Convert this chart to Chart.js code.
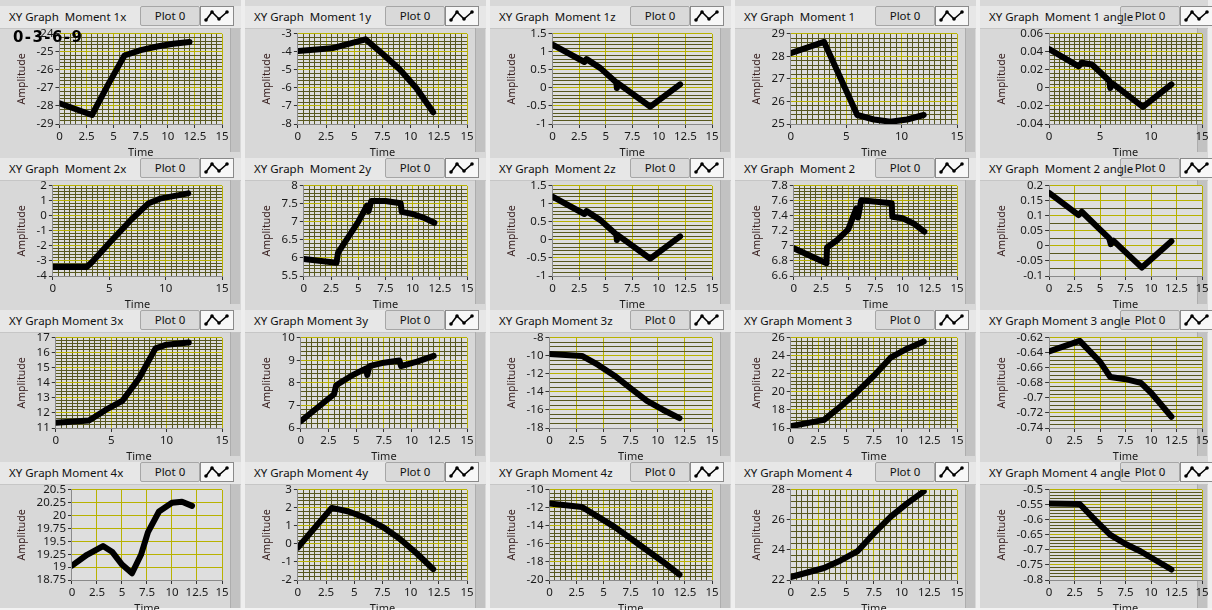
<!DOCTYPE html>
<html>
<head>
<meta charset="utf-8">
<script src="https://cdn.jsdelivr.net/npm/chart.js@4.4.0/dist/chart.umd.min.js"></script>
<style>
body{margin:0;background:#f3f3f3;width:1212px;height:610px;overflow:hidden;font-family:'Noto Sans',sans-serif;}
#board{position:relative;width:1212px;height:610px;}
.cell{position:absolute;background:#d8d8d8;box-sizing:border-box;border-right:4px solid #eeeeee;}
.edge{position:absolute;top:28px;right:1px;width:9px;bottom:0;background:#c2c2c2;border-left:1px solid #adadad;}
.head{position:absolute;left:0;right:0;top:6px;height:22px;background:#e7e7e7;border-bottom:1px solid #c6c6c6;}
.title{position:absolute;left:9px;top:9px;font-size:11.5px;white-space:pre;color:#111;}
.plotname{position:absolute;left:140px;top:6px;width:58px;height:18px;background:#d9d9d9;border:1px solid #a6a6a6;border-radius:2px;font-size:11.5px;text-align:center;line-height:18px;color:#111;}
.icon{position:absolute;left:200px;top:6px;width:32px;height:18px;background:#f7f7f7;border:1px solid #8a8a8a;}
.wrap{position:absolute;left:0;top:25px;width:232px;height:134px;z-index:3;}
#tag{position:absolute;left:13px;top:28px;font-weight:bold;font-size:15px;letter-spacing:1.4px;font-family:'DejaVu Sans',sans-serif;z-index:10;color:#000;}
</style>
</head>
<body>
<div id="board"><div id="tag">0-3-6-9</div></div>
<script>
// series: time (x) and moment value (y) per graph
const time1x = [0, 3, 4.5, 6, 7.5, 9, 10.5, 12];
const moment1x = [-27.85, -28.5, -26.8, -25.2, -24.9, -24.7, -24.55, -24.45];
const time1y = [0, 3, 6, 7.5, 9, 10.5, 12];
const moment1y = [-3.95, -3.8, -3.3, -4.1, -4.95, -6.0, -7.35];
const time1z = [0, 3, 3.2, 4.5, 6, 6.05, 6.2, 9.2, 12];
const moment1z = [1.2, 0.72, 0.8, 0.55, 0.15, 0.0, 0.12, -0.52, 0.1];
const time1 = [0, 3, 6, 7.5, 9, 10.5, 12];
const moment1 = [28.15, 28.65, 25.4, 25.2, 25.1, 25.2, 25.4];
const time1a = [0, 2.9, 3.2, 4.2, 5.9, 6.0, 6.2, 9.2, 12];
const moment1a = [0.043, 0.024, 0.028, 0.026, 0.008, 0.0, 0.005, -0.021, 0.004];

const time2x = [0, 3, 3.5, 5, 7, 8.5, 9.5, 12];
const moment2x = [-3.4, -3.4, -3.05, -1.8, -0.2, 0.85, 1.15, 1.5];
const time2y = [0, 3, 3.15, 5, 5.8, 5.95, 6.2, 7.5, 8.9, 9.0, 10, 11, 12];
const moment2y = [5.97, 5.87, 6.15, 7.0, 7.45, 7.3, 7.58, 7.58, 7.52, 7.28, 7.22, 7.12, 6.98];
const time2z = [0, 3, 3.2, 4.5, 6, 6.05, 6.2, 9.2, 12];
const moment2z = [1.2, 0.72, 0.8, 0.55, 0.15, 0.0, 0.12, -0.52, 0.1];
const time2 = [0, 3, 3.05, 4, 5, 5.75, 5.9, 6.2, 9, 9.05, 10, 11, 12];
const moment2 = [6.97, 6.77, 6.98, 7.08, 7.22, 7.5, 7.38, 7.61, 7.57, 7.39, 7.37, 7.3, 7.19];
const time2a = [0, 2.9, 3.2, 4.9, 5.9, 6.05, 6.3, 9.1, 12];
const moment2a = [0.177, 0.103, 0.114, 0.058, 0.025, 0.006, 0.018, -0.072, 0.016];

const time3x = [0, 3, 4.5, 6, 7.5, 9, 10, 12];
const moment3x = [11.35, 11.5, 12.2, 12.8, 14.3, 16.3, 16.55, 16.7];
const time3y = [0, 3, 3.2, 4.5, 5.9, 6.0, 6.2, 7.5, 8.9, 9.05, 10.5, 12];
const moment3y = [6.3, 7.5, 7.9, 8.3, 8.65, 8.35, 8.75, 8.9, 9.0, 8.75, 8.95, 9.2];
const time3z = [0, 3, 4.5, 6, 7.5, 9, 10.5, 12];
const moment3z = [-9.8, -10.0, -11.0, -12.2, -13.6, -15.0, -16.0, -16.9];
const time3 = [0, 3, 4.5, 6, 7.5, 9, 10.5, 12];
const moment3 = [16.2, 16.9, 18.4, 20.0, 21.8, 23.8, 24.8, 25.6];
const time3a = [0, 3, 5, 6, 7.5, 9, 10, 12];
const moment3a = [-0.638, -0.624, -0.652, -0.672, -0.675, -0.68, -0.693, -0.725];

const time4x = [0, 1.5, 3.1, 4, 5, 6, 6.9, 7.6, 8.7, 10, 11, 12];
const moment4x = [19.03, 19.24, 19.41, 19.3, 19.05, 18.88, 19.24, 19.68, 20.08, 20.25, 20.27, 20.19];
const time4y = [0, 3, 4.5, 6, 7.5, 9, 10.5, 12];
const moment4y = [-0.2, 2.0, 1.8, 1.45, 0.95, 0.3, -0.5, -1.4];
const time4z = [0, 3, 4.5, 6, 7.5, 9, 10.5, 12];
const moment4z = [-11.5, -11.9, -13.0, -14.1, -15.4, -16.7, -18.0, -19.4];
const time4 = [0, 3, 4.5, 6, 7.5, 9, 10.5, 12];
const moment4 = [22.2, 22.8, 23.3, 23.9, 25.1, 26.2, 27.1, 27.9];
const time4a = [0, 3, 4.5, 6, 7.5, 9, 10.5, 12];
const moment4a = [-0.545, -0.547, -0.6, -0.65, -0.68, -0.705, -0.735, -0.765];

const graphTitles = [
  'XY Graph  Moment 1x', 'XY Graph  Moment 1y', 'XY Graph  Moment 1z', 'XY Graph  Moment 1', 'XY Graph  Moment 1 angle',
  'XY Graph  Moment 2x', 'XY Graph  Moment 2y', 'XY Graph  Moment 2z', 'XY Graph  Moment 2', 'XY Graph  Moment 2 angle',
  'XY Graph Moment 3x', 'XY Graph Moment 3y', 'XY Graph Moment 3z', 'XY Graph Moment 3', 'XY Graph Moment 3 angle',
  'XY Graph Moment 4x', 'XY Graph Moment 4y', 'XY Graph Moment 4z', 'XY Graph Moment 4', 'XY Graph Moment 4 angle'
];
const allTimes = [time1x, time1y, time1z, time1, time1a, time2x, time2y, time2z, time2, time2a,
  time3x, time3y, time3z, time3, time3a, time4x, time4y, time4z, time4, time4a];
const allMoments = [moment1x, moment1y, moment1z, moment1, moment1a, moment2x, moment2y, moment2z, moment2, moment2a,
  moment3x, moment3y, moment3z, moment3, moment3a, moment4x, moment4y, moment4z, moment4, moment4a];

// axis ticks: y range, labelled step, minor grid step (0 = none); x labelled step, minor step
const yMin = [-29, -8, -1, 25, -0.04, -4, 5.5, -1, 6.6, -0.1, 11, 6, -18, 16, -0.74, 18.75, -2, -20, 22, -0.8];
const yMax = [-24, -3, 1.5, 29, 0.06, 2, 8, 1.5, 7.8, 0.2, 17, 10, -8, 26, -0.62, 20.5, 3, -10, 28, -0.5];
const yStep = [1, 1, 0.5, 1, 0.02, 1, 0.5, 0.5, 0.2, 0.05, 1, 1, 2, 2, 0.02, 0.25, 1, 2, 2, 0.05];
const yMinor = [0.2, 0.2, 0.1, 0.2, 0.004, 0.2, 0.1, 0.1, 0.04, 0.025, 0.2, 0.2, 0.5, 0.4, 0.005, 0, 0.2, 0.4, 0.4, 0.01];
const xStep = [2.5, 2.5, 2.5, 5, 5, 5, 2.5, 2.5, 2.5, 2.5, 5, 2.5, 2.5, 2.5, 2.5, 2.5, 2.5, 2.5, 2.5, 2.5];
const xMinor = [0.5, 0.5, 0, 0.5, 0.5, 0.5, 0.5, 0, 0.5, 0, 0.5, 0.5, 0, 0.5, 0, 0, 0.5, 0.5, 0.5, 0];

const colLeft = [0, 245, 490, 735, 980];
const rowTop = [0, 152, 304, 456];
const MAJOR = '#b8b200';
const MINOR = '#58581f';

const plotBg = {
  id: 'plotBg',
  beforeDraw(chart) {
    const a = chart.chartArea, c = chart.ctx;
    c.save();
    c.fillStyle = '#dedede';
    c.fillRect(a.left, a.top, a.width, a.height);
    c.restore();
  }
};

function onStep(v, step) {
  const r = v / step;
  return Math.abs(r - Math.round(r)) < 1e-6;
}
function fmt(v) {
  return String(Math.round(v * 10000) / 10000);
}

function axis(min, max, step, minor, isX) {
  return {
    type: 'linear', min: min, max: max,
    ticks: {
      stepSize: minor || step, autoSkip: false, maxRotation: 0, maxTicksLimit: 1000,
      padding: 2, color: '#1a1a1a', font: { family: 'Noto Sans', size: 11.5 },
      callback: v => onStep(v, step) ? fmt(v) : ''
    },
    grid: {
      color: c => (c.tick && onStep(c.tick.value, step)) ? MAJOR : MINOR,
      tickColor: c => (c.tick && onStep(c.tick.value, step)) ? '#333' : 'rgba(0,0,0,0)',
      tickLength: 4, lineWidth: 1
    },
    border: { color: '#8a8a8a' },
    title: isX
      ? { display: true, text: 'Time', color: '#1a1a1a', font: { family: 'Noto Sans', size: 11 }, padding: { top: 0, bottom: 0 } }
      : { display: true, text: 'Amplitude', color: '#3a2222', font: { family: 'Noto Sans', size: 10.5 }, padding: { top: 0, bottom: 6 } }
  };
}

const board = document.getElementById('board');
graphTitles.forEach((title, i) => {
  const row = Math.floor(i / 5), col = i % 5;
  const cell = document.createElement('div');
  cell.className = 'cell';
  cell.style.left = colLeft[col] + 'px';
  cell.style.top = rowTop[row] + 'px';
  cell.style.width = (col === 4 ? 232 : 245) + 'px';
  cell.style.height = '152px';
  cell.innerHTML = '<div class="head"></div><div class="edge"></div>' +
    '<div class="plotname">Plot 0</div>' +
    '<div class="icon"><svg width="32" height="18"><polyline points="5,13 11,5 18,12 26,5" fill="none" stroke="#000" stroke-width="1.6"/>' +
    '<circle cx="5" cy="13" r="1.8"/><circle cx="11" cy="5" r="1.8"/><circle cx="18" cy="12" r="1.8"/><circle cx="26" cy="5" r="1.8"/></svg></div>' +
    '<div class="title"></div><div class="wrap"><canvas></canvas></div>';
  cell.querySelector('.title').textContent = title;
  board.appendChild(cell);

  const pts = allTimes[i].map((t, k) => ({ x: t, y: allMoments[i][k] }));
  new Chart(cell.querySelector('canvas'), {
    type: 'scatter',
    data: { datasets: [{ data: pts, showLine: true, borderColor: '#000', borderWidth: 6, pointRadius: 0,
      borderJoinStyle: 'round', borderCapStyle: 'round' }] },
    options: {
      responsive: true, maintainAspectRatio: false, animation: false,
      layout: { padding: { left: 16, right: 10, top: 4, bottom: 0 } },
      plugins: { legend: { display: false }, tooltip: { enabled: false } },
      scales: {
        x: axis(0, 15, xStep[i], xMinor[i], true),
        y: axis(yMin[i], yMax[i], yStep[i], yMinor[i], false)
      }
    },
    plugins: [plotBg]
  });
});
</script>
</body>
</html>
